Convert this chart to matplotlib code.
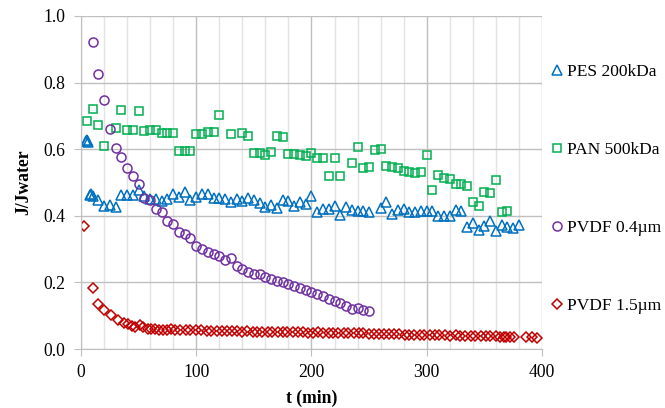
import matplotlib
matplotlib.use("Agg")
import matplotlib.pyplot as plt
import matplotlib.ticker as mtick

# PES 200kDa
pes_t = [4, 5, 6, 8, 9, 10, 15, 20, 25, 30, 35, 40, 45, 50, 55, 60, 65, 70, 75, 80,
         85, 90, 95, 100, 105, 110, 115, 120, 125, 130, 135, 140, 145, 150, 155, 160,
         165, 170, 175, 180, 185, 190, 195, 200, 205, 210, 215, 220, 225, 230, 235,
         240, 245, 250, 260, 265, 270, 275, 280, 285, 290, 295, 300, 305, 310, 315,
         320, 325, 330, 335, 340, 345, 350, 355, 360, 365, 370, 375, 380]
pes_j = [0.625, 0.628, 0.622, 0.462, 0.466, 0.460, 0.448, 0.428, 0.433, 0.426, 0.461,
         0.461, 0.461, 0.478, 0.460, 0.450, 0.450, 0.445, 0.450, 0.465, 0.455, 0.471,
         0.448, 0.456, 0.465, 0.465, 0.453, 0.453, 0.450, 0.441, 0.451, 0.443, 0.453,
         0.448, 0.438, 0.425, 0.433, 0.423, 0.446, 0.445, 0.428, 0.441, 0.435, 0.460,
         0.410, 0.420, 0.420, 0.430, 0.403, 0.425, 0.418, 0.415, 0.413, 0.410, 0.423,
         0.441, 0.405, 0.418, 0.421, 0.411, 0.411, 0.415, 0.415, 0.413, 0.400, 0.400,
         0.398, 0.418, 0.413, 0.365, 0.378, 0.358, 0.368, 0.383, 0.355, 0.373, 0.365,
         0.363, 0.371]

# PAN 500kDa
pan_t = [5, 10, 15, 20, 30, 35, 40, 45, 50, 55, 60, 65, 70, 75, 80, 85, 90, 95, 100,
         105, 110, 115, 120, 130, 140, 145, 150, 155, 160, 165, 170, 175, 180, 185,
         190, 195, 200, 205, 210, 215, 220, 225, 235, 240, 245, 250, 255, 260, 265,
         270, 275, 280, 285, 290, 295, 300, 305, 310, 315, 320, 325, 330, 335, 340,
         345, 350, 355, 360, 365, 370]
pan_j = [0.684, 0.722, 0.672, 0.611, 0.665, 0.719, 0.657, 0.657, 0.715, 0.654, 0.658,
         0.658, 0.649, 0.648, 0.650, 0.595, 0.595, 0.595, 0.647, 0.646, 0.651, 0.651,
         0.703, 0.645, 0.648, 0.641, 0.589, 0.590, 0.584, 0.591, 0.641, 0.638, 0.586,
         0.586, 0.583, 0.580, 0.590, 0.575, 0.575, 0.521, 0.575, 0.520, 0.558, 0.608,
         0.545, 0.548, 0.598, 0.601, 0.550, 0.546, 0.543, 0.535, 0.531, 0.528, 0.533,
         0.583, 0.478, 0.523, 0.513, 0.511, 0.496, 0.496, 0.488, 0.440, 0.428, 0.470,
         0.468, 0.508, 0.411, 0.413]

# PVDF 0.4um
pvdf04_t = [10, 15, 20, 25, 30, 35, 40, 45, 50, 55, 60, 65, 70, 75, 80, 85, 90, 95,
            100, 105, 110, 115, 120, 125, 130, 135, 140, 145, 150, 155, 160, 165, 170,
            175, 180, 185, 190, 195, 200, 205, 210, 215, 220, 225, 230, 235, 240, 245,
            250]
pvdf04_j = [0.921, 0.825, 0.748, 0.661, 0.603, 0.576, 0.544, 0.519, 0.495, 0.452,
            0.446, 0.421, 0.410, 0.384, 0.375, 0.351, 0.346, 0.334, 0.309, 0.299,
            0.291, 0.284, 0.279, 0.266, 0.272, 0.250, 0.241, 0.232, 0.226, 0.226,
            0.216, 0.211, 0.203, 0.201, 0.195, 0.190, 0.182, 0.177, 0.172, 0.166,
            0.158, 0.151, 0.143, 0.138, 0.128, 0.120, 0.124, 0.116, 0.114]

# PVDF 1.5um
pvdf15_t = [2.5, 10, 15, 20, 26, 32, 37, 41, 44, 47, 51, 54, 58, 61, 64, 68, 71, 75,
            78, 82, 86, 91, 95, 100, 104, 109, 113, 118, 122, 127, 131, 135, 140, 144,
            149, 153, 157, 162, 166, 171, 175, 179, 184, 188, 193, 197, 201, 206, 210,
            215, 219, 223, 228, 232, 237, 241, 245, 250, 254, 259, 263, 267, 272, 276,
            281, 285, 289, 294, 298, 303, 307, 311, 316, 320, 325, 329, 333, 338, 342,
            347, 351, 355, 360, 364, 367, 369, 372, 376, 386, 391, 396]
pvdf15_j = [0.370, 0.182, 0.136, 0.116, 0.101, 0.088, 0.078, 0.074, 0.070, 0.065,
            0.073, 0.065, 0.061, 0.061, 0.061, 0.058, 0.058, 0.056, 0.061, 0.058,
            0.056, 0.056, 0.056, 0.056, 0.056, 0.053, 0.053, 0.053, 0.053, 0.054,
            0.053, 0.053, 0.052, 0.053, 0.052, 0.052, 0.051, 0.052, 0.051, 0.051,
            0.052, 0.050, 0.050, 0.051, 0.050, 0.049, 0.049, 0.050, 0.049, 0.048,
            0.049, 0.048, 0.048, 0.049, 0.047, 0.047, 0.048, 0.046, 0.046, 0.045,
            0.046, 0.044, 0.045, 0.044, 0.043, 0.043, 0.042, 0.043, 0.042, 0.041,
            0.042, 0.041, 0.041, 0.040, 0.041, 0.040, 0.039, 0.040, 0.039, 0.038,
            0.039, 0.038, 0.038, 0.037, 0.036, 0.037, 0.036, 0.035, 0.036, 0.035,
            0.034]

plt.rcParams['font.family'] = ['Liberation Serif', 'DejaVu Serif']
fs = 12.7

fig = plt.figure(figsize=(6.65, 4.08), dpi=100)
ax = fig.add_axes([0.1218, 0.1446, 0.6932, 0.8162])

style = dict(linestyle='none', markerfacecolor='none', markeredgewidth=1.1)
ax.plot(pes_t, pes_j, marker='^', markersize=6.5, markeredgecolor='#0070C0',
        label='PES 200kDa', **style)
ax.plot(pan_t, pan_j, marker='s', markersize=6, markeredgecolor='#00B050',
        label='PAN 500kDa', **style)
ax.plot(pvdf04_t, pvdf04_j, marker='o', markersize=6.5, markeredgecolor='#7030A0',
        label='PVDF 0.4\u00b5m', **style)
ax.plot(pvdf15_t, pvdf15_j, marker='D', markersize=4.8, markeredgecolor='#C00000',
        label='PVDF 1.5\u00b5m', **style)

ax.set_xlim(0, 400)
ax.set_ylim(0, 1.0)
ax.xaxis.set_major_locator(mtick.MultipleLocator(100))
ax.xaxis.set_minor_locator(mtick.MultipleLocator(20))
ax.yaxis.set_major_locator(mtick.MultipleLocator(0.2))
ax.yaxis.set_major_formatter(mtick.FormatStrFormatter('%.1f'))

ax.grid(which='major', color='#BFBFBF', linewidth=1.0)
ax.grid(which='minor', axis='x', color='#E3E3E3', linewidth=1.0)
ax.set_axisbelow(True)
for side in ['top', 'right']:
    ax.spines[side].set_visible(False)
for side in ['left', 'bottom']:
    ax.spines[side].set_color('#BFBFBF')
ax.tick_params(which='major', length=5, color='#BFBFBF', labelsize=fs, pad=6)
ax.tick_params(which='minor', length=0)

ax.set_xlabel('t (min)', fontsize=fs, fontweight='bold', labelpad=6)
ax.set_ylabel('J/Jwater', fontsize=fs, fontweight='bold', labelpad=8)

fig.legend(loc='upper left', bbox_to_anchor=(0.821, 0.8615), frameon=False,
           fontsize=12.5, labelspacing=3.57, handlelength=0.5, handletextpad=0.3,
           borderaxespad=0)

fig.savefig('out.png', dpi=100)
